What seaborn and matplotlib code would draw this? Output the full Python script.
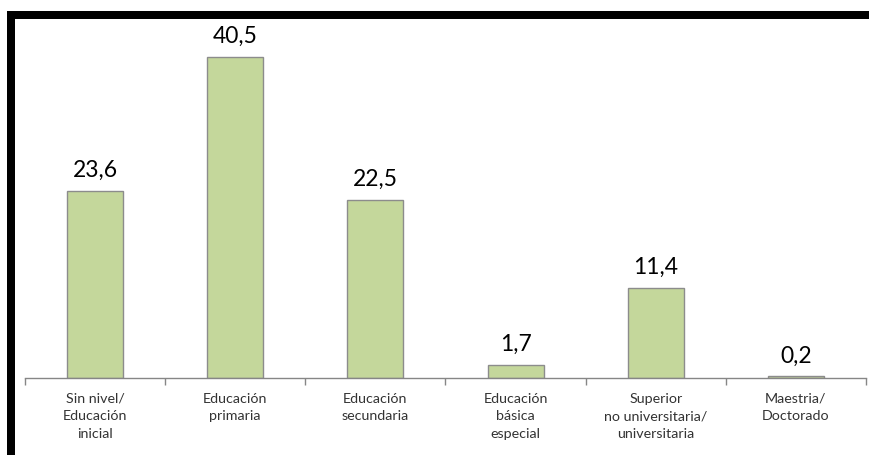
import matplotlib
matplotlib.use("Agg")
import matplotlib.pyplot as plt
from matplotlib.patches import Rectangle
import seaborn as sns
import pandas as pd

categories = [
    "Sin nivel/\nEducación\ninicial",
    "Educación\nprimaria",
    "Educación\nsecundaria",
    "Educación\nbásica\nespecial",
    "Superior\nno universitaria/\nuniversitaria",
    "Maestria/\nDoctorado",
]
values = [23.6, 40.5, 22.5, 1.7, 11.4, 0.2]
value_labels = ["23,6", "40,5", "22,5", "1,7", "11,4", "0,2"]

df = pd.DataFrame({"nivel": categories, "pct": values})

sns.set_theme(style="white")
plt.rcParams["font.family"] = ["Lato", "DejaVu Sans"]

W, H = 870, 455
fig = plt.figure(figsize=(W / 100, H / 100), dpi=100)
ax = fig.add_axes([25 / W, 1 - 378 / H, (866 - 25) / W, (378 - 21) / H])

sns.barplot(data=df, x="nivel", y="pct", ax=ax, color="#C4D79B",
            width=0.4, edgecolor="#8C8C8C", linewidth=1.0, saturation=1)

ax.set_xlim(-0.5, len(categories) - 0.5)
ax.set_ylim(0, 45)
ax.set_xlabel("")
ax.set_ylabel("")
ax.set_yticks([])

for s in ["top", "right", "left"]:
    ax.spines[s].set_visible(False)
ax.spines["bottom"].set_color("#868686")
ax.spines["bottom"].set_linewidth(1.0)

# tick marks sit between categories, labels centred under the bars
ax.set_xticks([i - 0.5 for i in range(len(categories) + 1)], minor=True)
ax.tick_params(axis="x", which="minor", length=5, width=1, color="#868686",
               direction="out", bottom=True)
ax.tick_params(axis="x", which="major", length=0, pad=10.5,
               labelsize=10.3, labelcolor="#333333")
for lab in ax.get_xticklabels():
    lab.set_linespacing(1.55)

for i, (v, t) in enumerate(zip(values, value_labels)):
    ax.annotate(t, (i, v), xytext=(0, 7), textcoords="offset points",
                ha="center", va="bottom", fontsize=16.5, color="#000000")

# black frame strips along the top and left
fig.patches.append(Rectangle((7 / W, 1 - 19 / H), 1, 8 / H, transform=fig.transFigure,
                             facecolor="black", edgecolor="none", zorder=10))
fig.patches.append(Rectangle((7 / W, 0), 8 / W, 1 - 11 / H, transform=fig.transFigure,
                             facecolor="black", edgecolor="none", zorder=10))

fig.savefig("out.png", dpi=100)
